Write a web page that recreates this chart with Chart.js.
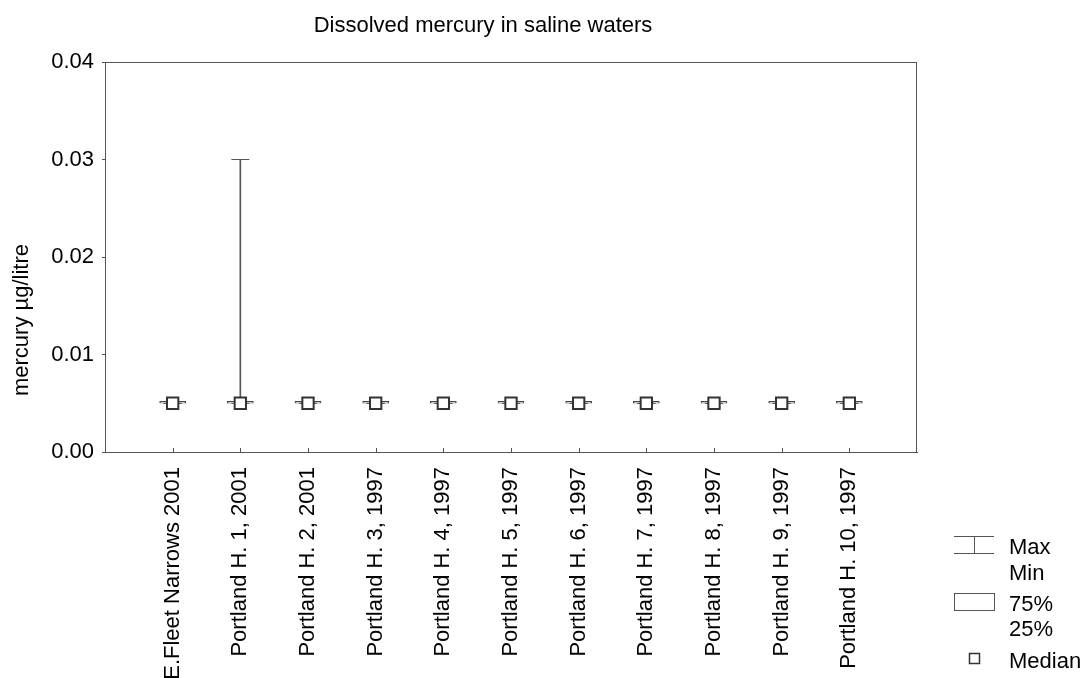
<!DOCTYPE html>
<html>
<head>
<meta charset="utf-8">
<script src="https://cdn.jsdelivr.net/npm/chart.js@4/dist/chart.umd.min.js"></script>
<style>
  body { margin: 0; background: #fff; }
  #wrap { width: 1084px; height: 678px; position: relative; }
</style>
</head>
<body>
<div id="wrap"><canvas id="boxChart"></canvas></div>
<script>
// site names and summary stats (µg/litre)
const labels = [
  "E.Fleet Narrows 2001",
  "Portland H. 1, 2001",
  "Portland H. 2, 2001",
  "Portland H. 3, 1997",
  "Portland H. 4, 1997",
  "Portland H. 5, 1997",
  "Portland H. 6, 1997",
  "Portland H. 7, 1997",
  "Portland H. 8, 1997",
  "Portland H. 9, 1997",
  "Portland H. 10, 1997"
];
const minVals = [0.005, 0.005, 0.005, 0.005, 0.005, 0.005, 0.005, 0.005, 0.005, 0.005, 0.005];
const q1Vals = [0.005, 0.005, 0.005, 0.005, 0.005, 0.005, 0.005, 0.005, 0.005, 0.005, 0.005];
const medianVals = [0.005, 0.005, 0.005, 0.005, 0.005, 0.005, 0.005, 0.005, 0.005, 0.005, 0.005];
const q3Vals = [0.005, 0.005, 0.005, 0.005, 0.005, 0.005, 0.005, 0.005, 0.005, 0.005, 0.005];
const maxVals = [0.005, 0.03, 0.005, 0.005, 0.005, 0.005, 0.005, 0.005, 0.005, 0.005, 0.005];
const yTicks = [0, 0.01, 0.02, 0.03, 0.04];

const FONT = "'Liberation Sans', Arial, sans-serif";
const SIZE = 22;
const LINE = "#555";

const pts = vals => vals.map((v, i) => ({ x: i + 1, y: v }));
const ranges = (lo, hi) => lo.map((v, i) => ({ x: i + 1, y: [v, hi[i]] }));

// frame, inner x ticks, titles and the legend
const decor = {
  id: "decor",
  afterDraw(chart) {
    const { ctx, chartArea: a, scales } = chart;
    ctx.save();
    ctx.strokeStyle = LINE;
    ctx.lineWidth = 1;
    ctx.strokeRect(a.left + 0.5, a.top + 0.5, a.right - a.left - 1, a.bottom - a.top);

    ctx.beginPath();
    labels.forEach((_, i) => {
      const x = Math.round(scales.x.getPixelForValue(i + 1)) + 0.5;
      ctx.moveTo(x, a.bottom);
      ctx.lineTo(x, a.bottom - 4);
    });
    ctx.stroke();

    ctx.fillStyle = "#000";
    ctx.font = `${SIZE}px ${FONT}`;
    ctx.textAlign = "center";
    ctx.textBaseline = "alphabetic";
    ctx.fillText("Dissolved mercury in saline waters", 483, 32);

    ctx.save();
    ctx.translate(28, 320);
    ctx.rotate(-Math.PI / 2);
    ctx.fillText("mercury µg/litre", 0, 0);
    ctx.restore();

    // legend
    ctx.beginPath();
    ctx.moveTo(954, 536.5); ctx.lineTo(994, 536.5);
    ctx.moveTo(954, 553.5); ctx.lineTo(994, 553.5);
    ctx.moveTo(974.5, 536.5); ctx.lineTo(974.5, 553.5);
    ctx.stroke();
    ctx.strokeRect(954.5, 593.5, 40, 17);
    ctx.strokeStyle = "#333";
    ctx.lineWidth = 1.5;
    ctx.strokeRect(969.5, 653.5, 10, 10);

    ctx.textAlign = "left";
    ctx.fillText("Max", 1009, 554);
    ctx.fillText("Min", 1009, 580);
    ctx.fillText("75%", 1009, 611);
    ctx.fillText("25%", 1009, 636);
    ctx.fillText("Median", 1009, 668);
    ctx.restore();
  }
};

new Chart(document.getElementById("boxChart"), {
  type: "bar",
  plugins: [decor],
  data: {
    datasets: [
      {
        type: "scatter",
        label: "Median",
        data: pts(medianVals),
        pointStyle: "rect",
        radius: 8,
        backgroundColor: "#fff",
        borderColor: "#333",
        borderWidth: 2
      },
      {
        type: "bar",
        label: "Box",
        data: ranges(q1Vals, q3Vals),
        barThickness: 26,
        minBarLength: 2,
        grouped: false,
        backgroundColor: "#fff",
        borderColor: "#444",
        borderWidth: 1,
        borderSkipped: false
      },
      {
        type: "scatter",
        label: "Max",
        data: pts(maxVals),
        pointStyle: "line",
        radius: 9,
        borderColor: LINE,
        borderWidth: 1
      },
      {
        type: "scatter",
        label: "Min",
        data: pts(minVals),
        pointStyle: "line",
        radius: 9,
        borderColor: LINE,
        borderWidth: 1
      },
      {
        type: "bar",
        label: "Whisker",
        data: ranges(minVals, maxVals),
        barThickness: 1,
        grouped: false,
        backgroundColor: LINE,
        borderWidth: 0
      }
    ]
  },
  options: {
    responsive: true,
    maintainAspectRatio: false,
    animation: false,
    events: [],
    layout: { padding: { left: 0, right: 167, top: 62, bottom: 0 } },
    plugins: {
      legend: { display: false },
      title: { display: false },
      tooltip: { enabled: false }
    },
    scales: {
      x: {
        type: "linear",
        min: 0,
        max: 12,
        offset: false,
        afterBuildTicks: s => { s.ticks = labels.map((_, i) => ({ value: i + 1 })); },
        afterFit: s => { s.height = 226; },
        grid: { drawOnChartArea: false, drawTicks: false },
        border: { color: LINE },
        ticks: {
          autoSkip: false,
          minRotation: 90,
          maxRotation: 90,
          padding: 15,
          color: "#000",
          font: { family: FONT, size: SIZE },
          callback: v => labels[v - 1] ?? ""
        }
      },
      y: {
        min: 0,
        max: 0.04,
        afterBuildTicks: s => { s.ticks = yTicks.map(v => ({ value: v })); },
        afterFit: s => { s.width = 105; },
        grid: { drawOnChartArea: false, tickLength: 3, color: LINE },
        border: { color: LINE },
        ticks: {
          padding: 8,
          color: "#000",
          font: { family: FONT, size: SIZE },
          callback: v => v.toFixed(2)
        }
      }
    }
  }
});
</script>
</body>
</html>
